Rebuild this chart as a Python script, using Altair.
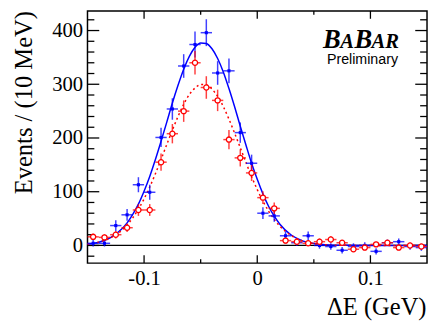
import altair as alt
import pandas as pd

# ---------------- data ----------------
bin_centers = [-0.145, -0.135, -0.125, -0.115, -0.105, -0.095, -0.085, -0.075,
               -0.065, -0.055, -0.045, -0.035, -0.025, -0.015, -0.005, 0.005,
               0.015, 0.025, 0.035, 0.045, 0.055, 0.065, 0.075, 0.085, 0.095,
               0.105, 0.115, 0.125, 0.135, 0.145]
half_bin = 0.005

blue_counts = [4, 4, 37, 57, 113, 99, 201, 254, 334, 374, 396, 321, 325, 210, 153,
               60, 55, 18, 5, 18, 0, -2, -9, -2, 0, -11, 5, 7, -2, -4]
blue_errors = [6, 6, 10, 11, 14, 14, 18, 20, 22, 24, 25, 22, 23, 19, 16,
               11, 11, 8, 6, 8, 6, 6, 6, 6, 6, 6, 6, 6, 6, 6]

red_counts = [16, 15, 20, 33, 66, 66, 155, 208, 250, 340, 294, 270, 197, 163, 135,
              89, 69, 9, 7, 4, 7, 11, 5, -7, -4, 2, 5, -4, 0, -2]
red_errors = [6, 6, 7, 8, 11, 11, 16, 18, 20, 22, 21, 20, 18, 16, 15,
              12, 11, 6, 6, 5, 6, 6, 5, 5, 5, 5, 5, 5, 5, 5]

curve_x = [-0.15, -0.14, -0.13, -0.12, -0.115, -0.11, -0.105, -0.10, -0.095, -0.09,
           -0.085, -0.08, -0.075, -0.07, -0.065, -0.06, -0.055, -0.05, -0.045, -0.04,
           -0.035, -0.03, -0.025, -0.02, -0.015, -0.01, -0.005, 0.0, 0.005, 0.01,
           0.015, 0.02, 0.03, 0.04, 0.05, 0.06, 0.07, 0.08, 0.10, 0.12, 0.15]
blue_curve = [2.4, 6.1, 14.2, 30.1, 42, 57.9, 77, 101, 128.5, 160,
              194, 229, 265, 298, 328, 352, 369, 377, 376, 366,
              348, 323, 292, 258, 222, 187, 153, 123, 96, 73,
              54.4, 39.5, 19.4, 8.6, 3.5, 1.3, 0.5, 0.2, 0, 0, 0]
red_curve = [2.5, 6.2, 13.7, 27.8, 38, 51.4, 67.5, 86.7, 108.8, 133.4,
             160, 187.5, 214.7, 240, 262.7, 281, 293, 299.5, 298.8, 291,
             277.6, 258.5, 235, 209, 182, 154.6, 128, 104, 82.6, 64,
             48.5, 35.9, 18.4, 8.6, 3.6, 1.4, 0.5, 0.2, 0, 0, 0]

y_major = [0, 100, 200, 300, 400]
y_minor = [-20, 20, 40, 60, 80, 120, 140, 160, 180, 220, 240, 260, 280,
           320, 340, 360, 380, 420]
x_major = [-0.1, 0.0, 0.1]
x_minor = [-0.05, 0.05]

x_domain = [-0.15, 0.15]
y_domain = [-32.9, 436.5]

# ---------------- tables ----------------
def points(counts, errs):
    return pd.DataFrame({
        "x": bin_centers,
        "y": counts,
        "lo": [c - e for c, e in zip(counts, errs)],
        "hi": [c + e for c, e in zip(counts, errs)],
        "xlo": [b - half_bin for b in bin_centers],
        "xhi": [b + half_bin for b in bin_centers],
    })

blue_df = points(blue_counts, blue_errors)
red_df = points(red_counts, red_errors)
blue_curve_df = pd.DataFrame({"x": curve_x, "y": blue_curve})
red_curve_df = pd.DataFrame({"x": curve_x, "y": red_curve})

W, H = 346, 257
BLUE = "#0000ff"
RED = "#ff0000"
SERIF = "Liberation Serif"

xs = alt.Scale(domain=x_domain, nice=False, zero=False)
ys = alt.Scale(domain=y_domain, nice=False, zero=False)

x_axis = alt.Axis(
    values=x_major, grid=False, domain=False, ticks=False, tickSize=0,
    labelExpr="datum.value == 0 ? '0' : (datum.value < 0 ? '-' : '') + format(abs(datum.value), '.1f')",
    labelFont=SERIF, labelFontSize=21, labelColor="black",
    labelBaseline="alphabetic", labelPadding=22,
    title="ΔE (GeV)", titleFont=SERIF, titleFontSize=25, titleFontWeight="normal",
    titleColor="black", titleAlign="right", titleBaseline="alphabetic",
    titleX=345, titleY=52,
)
y_axis = alt.Axis(
    values=y_major, grid=False, domain=False, ticks=False, tickSize=0, format="d",
    labelFont=SERIF, labelFontSize=21, labelColor="black", labelPadding=5,
    labelAlign="right", labelBaseline="middle",
    title="Events / (10 MeV)", titleFont=SERIF, titleFontSize=25,
    titleFontWeight="normal", titleColor="black", titleAngle=270,
    titleAlign="center", titleBaseline="alphabetic", titleX=-57, titleY=93,
)

def X(field):
    return alt.X(field, type="quantitative", scale=xs, axis=x_axis)

def Y(field):
    return alt.Y(field, type="quantitative", scale=ys, axis=y_axis)

layers = []

# zero line
layers.append(alt.Chart(pd.DataFrame({"v": [0]})).mark_rule(color="black", strokeWidth=1.3)
              .encode(y=Y("v"), x=alt.value(0), x2=alt.value(W)))

# y ticks (left and right, inward)
ymaj = pd.DataFrame({"v": y_major})
ymin = pd.DataFrame({"v": y_minor})
for df, ln in ((ymaj, 12), (ymin, 7)):
    layers.append(alt.Chart(df).mark_rule(color="black", strokeWidth=1.3)
                  .encode(y=Y("v"), x=alt.value(0), x2=alt.value(ln)))
    layers.append(alt.Chart(df).mark_rule(color="black", strokeWidth=1.3)
                  .encode(y=Y("v"), x=alt.value(W), x2=alt.value(W - ln)))
# x ticks (top and bottom, inward)
xmaj = pd.DataFrame({"v": x_major})
xmin = pd.DataFrame({"v": x_minor})
for df, ln in ((xmaj, 8), (xmin, 4)):
    layers.append(alt.Chart(df).mark_rule(color="black", strokeWidth=1.3)
                  .encode(x=X("v"), y=alt.value(0), y2=alt.value(ln)))
    layers.append(alt.Chart(df).mark_rule(color="black", strokeWidth=1.3)
                  .encode(x=X("v"), y=alt.value(H), y2=alt.value(H - ln)))

# fit curves
layers.append(alt.Chart(blue_curve_df).mark_line(color=BLUE, strokeWidth=1.5, interpolate="monotone")
              .encode(x=X("x"), y=Y("y")))
layers.append(alt.Chart(red_curve_df).mark_line(color=RED, strokeWidth=1.5, strokeDash=[2, 3],
                                                interpolate="monotone")
              .encode(x=X("x"), y=Y("y")))

# error bars
for df, col in ((blue_df, BLUE), (red_df, RED)):
    layers.append(alt.Chart(df).mark_rule(color=col, strokeWidth=1.5, opacity=0.75)
                  .encode(x=X("x"), y=Y("lo"), y2="hi"))
    layers.append(alt.Chart(df).mark_rule(color=col, strokeWidth=1.5, opacity=0.75)
                  .encode(x=X("xlo"), x2="xhi", y=Y("y")))

# markers
layers.append(alt.Chart(blue_df).mark_square(size=10, color=BLUE, opacity=1)
              .encode(x=X("x"), y=Y("y")))
layers.append(alt.Chart(red_df).mark_point(shape="circle", size=28, filled=True, fill="white",
                                           stroke=RED, strokeWidth=1.3, opacity=1)
              .encode(x=X("x"), y=Y("y")))

# BaBar logo
logo_letters = ["B", "A", "B", "A", "R"]
logo_sizes = [27, 21, 27, 21, 21]
logo_x = [240, 257.5, 272, 289.5, 303.5]
for letter, sz, lx in zip(logo_letters, logo_sizes, logo_x):
    layers.append(alt.Chart(pd.DataFrame({"t": [letter]}))
                  .mark_text(font=SERIF, fontStyle="italic", fontWeight="bold", fontSize=sz,
                             align="left", baseline="alphabetic", color="black")
                  .encode(text="t:N", x=alt.value(lx), y=alt.value(38)))
layers.append(alt.Chart(pd.DataFrame({"t": ["Preliminary"]}))
              .mark_text(font="Liberation Sans", fontSize=14.5, align="left",
                         baseline="alphabetic", color="black")
              .encode(text="t:N", x=alt.value(244), y=alt.value(54)))

chart = (
    alt.layer(*layers)
    .properties(width=W, height=H,
                autosize=alt.AutoSizeParams(type="none"),
                padding={"left": 81, "top": 0, "right": 1, "bottom": 56},
                background="white")
    .configure_view(stroke="black", strokeWidth=1.5)
)

chart.save("out.html", embed_options={"renderer": "svg", "actions": False})
